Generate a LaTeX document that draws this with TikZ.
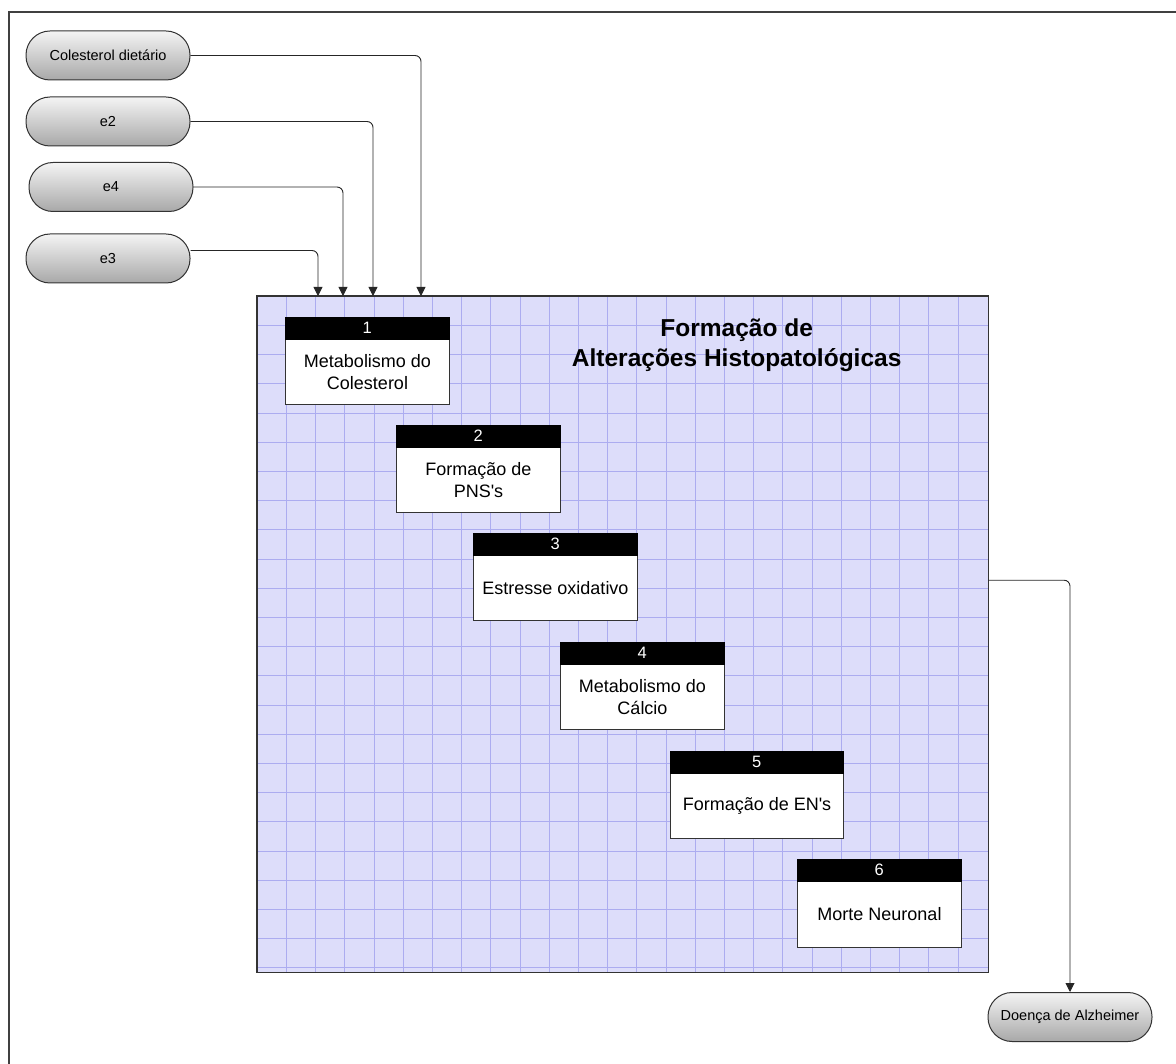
\documentclass[tikz,border=0pt]{standalone}
\usepackage{fontspec}
\setmainfont{Liberation Sans}[Ligatures=TeXOff]
\usetikzlibrary{arrows.meta}
\definecolor{paneFill}{RGB}{221,221,250}
\definecolor{paneGrid}{RGB}{172,172,240}
\definecolor{pillTop}{RGB}{244,244,244}
\definecolor{pillBottom}{RGB}{168,168,168}
\begin{document}
\begin{tikzpicture}[x=1pt,y=-1pt,
  frame/.style={draw=black!75,line width=1.4pt},
  pill/.style={rectangle,rounded corners=24pt,draw=black!80,line width=1pt,
    top color=pillTop,bottom color=pillBottom,
    minimum width=164pt,minimum height=49pt,inner sep=0pt,
    font=\fontsize{14.5}{17}\selectfont},
  pane/.style={rectangle,fill=paneFill,inner sep=0pt,anchor=north west},
  paneborder/.style={draw=black!80,line width=1.6pt},
  gridline/.style={draw=paneGrid,line width=0.5pt},
  numhead/.style={rectangle,fill=black,draw=black,text=white,inner sep=0pt,
    minimum height=22pt,anchor=south west,
    font=\fontsize{16.5}{19}\selectfont},
  numbody/.style={rectangle,fill=white,draw=black!80,line width=1pt,inner sep=0pt,
    minimum height=65pt,anchor=north west,align=center,
    font=\fontsize{18}{22}\selectfont},
  titletext/.style={anchor=base,font=\fontsize{24.5}{30}\bfseries\selectfont},
  conn/.style={draw=black!85,line width=0.9pt,rounded corners=6pt,
    -{Triangle[length=9pt,width=9pt]}}
]
\useasboundingbox (0,0) rectangle (1176,1064);

% outer frame
\draw[frame] (1176,12) -- (9,12) -- (9,1064);

% process pane with its grid
\node[pane,minimum width=731pt,minimum height=676pt] (big) at (257,296) {};
\foreach \i in {1,...,24} {
  \draw[gridline] ({257+\i*29.2},296) -- ({257+\i*29.2},972);
}
\foreach \j in {1,...,23} {
  \draw[gridline] (257,{296+\j*29.2}) -- (988,{296+\j*29.2});
}
\draw[paneborder] (big.north west) rectangle (big.south east);

% title
\node[titletext] (t1) at (736.7,336.7) {Formação de};
\node[titletext] (t2) at (736.7,366.7) {Alterações Histopatológicas};

% numbered steps
\node[numbody,minimum width=164pt] (b1) at (285,339) {Metabolismo do\\Colesterol};
\node[numhead,minimum width=164pt] (h1) at (b1.north west) {1};
\node[numbody,minimum width=164pt] (b2) at (396,447) {Formação de\\PNS's};
\node[numhead,minimum width=164pt] (h2) at (b2.north west) {2};
\node[numbody,minimum width=164pt] (b3) at (473,555) {Estresse oxidativo};
\node[numhead,minimum width=164pt] (h3) at (b3.north west) {3};
\node[numbody,minimum width=164pt] (b4) at (560,664) {Metabolismo do\\Cálcio};
\node[numhead,minimum width=164pt] (h4) at (b4.north west) {4};
\node[numbody,minimum width=173pt] (b5) at (670,773) {Formação de EN's};
\node[numhead,minimum width=173pt] (h5) at (b5.north west) {5};
\node[numbody,minimum width=164pt,minimum height=66pt] (b6) at (797,881) {Morte Neuronal};
\node[numhead,minimum width=164pt] (h6) at (b6.north west) {6};

% inputs
\node[pill] (p1) at (108,55.5) {Colesterol dietário};
\node[pill] (p2) at (108,121.5) {e2};
\node[pill] (p3) at (111,187) {e4};
\node[pill] (p4) at (108,258.5) {e3};

% output
\node[pill] (alz) at (1070,1017) {Doença de Alzheimer};

% entry points on the pane
\coordinate (in1) at (421,296);
\coordinate (in2) at (373,296);
\coordinate (in3) at (343,296);
\coordinate (in4) at (318,296);

\draw[conn] (p1.east) -| (in1);
\draw[conn] (p2.east) -| (in2);
\draw[conn] (p3.east) -| (in3);
\draw[conn] ([yshift=8pt]p4.east) -| (in4);
\draw[conn] ([yshift=54pt]big.east) -| (alz.north);
\end{tikzpicture}
\end{document}
